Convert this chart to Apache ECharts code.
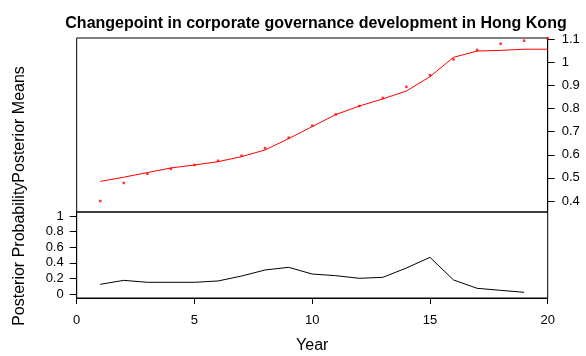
<!DOCTYPE html>
<html>
<head>
<meta charset="utf-8">
<script src="https://cdn.jsdelivr.net/npm/echarts@6/dist/echarts.min.js"></script>
<style>html,body{margin:0;padding:0;background:#fff;}#c{width:586px;height:356px;}</style>
</head>
<body>
<div id="c"></div>
<script>
var years = [1,2,3,4,5,6,7,8,9,10,11,12,13,14,15,16,17,18,19,20];
var posteriorMeans = [0.400,0.478,0.518,0.539,0.556,0.574,0.596,0.629,0.674,0.726,0.775,0.811,0.846,0.894,0.945,1.013,1.054,1.081,1.094,1.104];
var fittedMeans = [0.485,0.503,0.523,0.543,0.556,0.570,0.592,0.621,0.670,0.722,0.774,0.811,0.842,0.876,0.938,1.022,1.049,1.052,1.057,1.057];
var probYears = [1,2,3,4,5,6,7,8,9,10,11,12,13,14,15,16,17,18,19];
var posteriorProb = [0.124,0.175,0.150,0.150,0.150,0.167,0.230,0.308,0.342,0.256,0.235,0.201,0.214,0.333,0.470,0.180,0.073,0.047,0.022];
var meanTicks = [0.4,0.5,0.6,0.7,0.8,0.9,1,1.1];
var probTicks = [0,0.2,0.4,0.6,0.8,1];

function pairs(xs, ys){ return xs.map(function(x,i){ return [x, ys[i]]; }); }

var FONT = '"Liberation Sans", Arial, sans-serif';
var chart = echarts.init(document.getElementById('c'), null, {renderer:'canvas'});
chart.setOption({
  animation: false,
  backgroundColor: '#fff',
  title: {
    text: 'Changepoint in corporate governance development in Hong Kong',
    left: 311, top: 11, textAlign: 'center',
    textStyle: {fontFamily: FONT, fontWeight: 'bold', fontSize: 16, color: '#000'}
  },
  graphic: [{
    type: 'text', x: 12, y: 196, rotation: Math.PI/2,
    style: {text: 'Posterior ProbabilityPosterior Means', font: '16px ' + FONT, fill: '#000', textAlign: 'center', textVerticalAlign: 'top'}
  }],
  grid: [
    {left: 76.7, right: 38.3, top: 38, height: 174, show: true, borderColor: '#000', borderWidth: 1, backgroundColor: 'transparent'},
    {left: 76.7, right: 38.3, top: 212, height: 86, show: true, borderColor: '#000', borderWidth: 1, backgroundColor: 'transparent'}
  ],
  xAxis: [
    {gridIndex: 0, type: 'value', min: 0, max: 20, show: false},
    {gridIndex: 1, type: 'value', min: 0, max: 20, interval: 5,
     name: 'Year', nameLocation: 'middle', nameGap: 40,
     nameTextStyle: {fontFamily: FONT, fontSize: 16, color: '#000'},
     axisLine: {show: true, onZero: false, lineStyle: {color: '#000'}},
     axisTick: {show: true, length: 6, lineStyle: {color: '#000'}},
     axisLabel: {fontFamily: FONT, fontSize: 13, color: '#000', margin: 16},
     splitLine: {show: false}}
  ],
  yAxis: [
    {gridIndex: 0, type: 'value', position: 'right', min: 0.3524, max: 1.1056,
     axisLine: {show: true, onZero: false, lineStyle: {color: '#000'}},
     axisTick: {show: true, length: 7, customValues: meanTicks, lineStyle: {color: '#000'}},
     axisLabel: {fontFamily: FONT, fontSize: 13, color: '#000', margin: 14, customValues: meanTicks},
     splitLine: {show: false}},
    {gridIndex: 1, type: 'value', position: 'left', min: -0.0513, max: 1.0513,
     axisLine: {show: true, onZero: false, lineStyle: {color: '#000'}},
     axisTick: {show: true, length: 7, customValues: probTicks, lineStyle: {color: '#000'}},
     axisLabel: {fontFamily: FONT, fontSize: 13, color: '#000', margin: 13, customValues: probTicks},
     splitLine: {show: false}}
  ],
  series: [
    {type: 'line', xAxisIndex: 0, yAxisIndex: 0, data: pairs(years, fittedMeans),
     showSymbol: false, symbol: 'none', lineStyle: {color: '#ff0000', width: 1}, clip: false},
    {type: 'scatter', xAxisIndex: 0, yAxisIndex: 0, data: pairs(years, posteriorMeans),
     symbol: 'rect', symbolSize: 2.5, itemStyle: {color: '#ff0000'}, clip: false},
    {type: 'line', xAxisIndex: 1, yAxisIndex: 1, data: pairs(probYears, posteriorProb),
     showSymbol: false, symbol: 'none', lineStyle: {color: '#000', width: 1}}
  ]
});
</script>
</body>
</html>
